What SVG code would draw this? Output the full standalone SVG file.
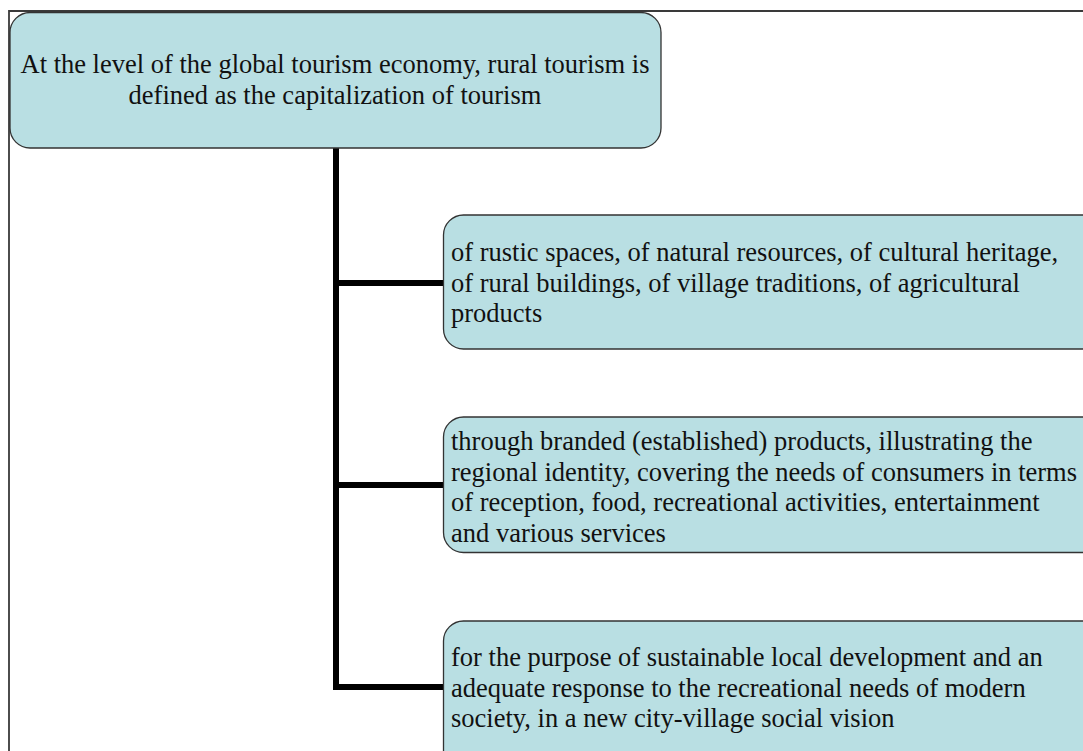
<svg xmlns="http://www.w3.org/2000/svg" width="1083" height="751" viewBox="0 0 1083 751">
<style>
.box{fill:#b9dfe3;stroke:#333;stroke-width:1.3}
.t{font-family:"Liberation Serif","Times New Roman",serif;font-size:26.5px;fill:#111}
.c{text-anchor:middle}
.conn{fill:none;stroke:#000;stroke-width:6;stroke-linejoin:miter}
.frame{fill:none;stroke:#3a3a3a;stroke-width:1.8}
</style>
<rect width="1083" height="751" fill="#fff"/>
<path class="frame" d="M9,751 V11 H1083"/>
<g id="connectors">
<path class="conn" d="M336,148 V687 H445"/>
<path class="conn" d="M336,283 H445"/>
<path class="conn" d="M336,485 H445"/>
</g>
<g id="root">
<rect class="box" x="10" y="12.5" width="651" height="135.5" rx="20" ry="20"/>
<text class="t c" x="335" y="73">At the level of the global tourism economy, rural tourism is</text>
<text class="t c" x="335" y="104">defined as the capitalization of tourism</text>
</g>
<g id="node1">
<rect class="box" x="443.5" y="215" width="660" height="134" rx="20" ry="20"/>
<text class="t" x="451" y="261">of rustic spaces, of natural resources, of cultural heritage,</text>
<text class="t" x="451" y="292">of rural buildings, of village traditions, of agricultural</text>
<text class="t" x="451" y="322">products</text>
</g>
<g id="node2">
<rect class="box" x="443.5" y="417" width="660" height="135.5" rx="20" ry="20"/>
<text class="t" x="451" y="450">through branded (established) products, illustrating the</text>
<text class="t" x="451" y="480.5">regional identity, covering the needs of consumers in terms</text>
<text class="t" x="451" y="511">of reception, food, recreational activities, entertainment</text>
<text class="t" x="451" y="541.5">and various services</text>
</g>
<g id="node3">
<rect class="box" x="443.5" y="621" width="660" height="160" rx="20" ry="20"/>
<text class="t" x="451" y="666">for the purpose of sustainable local development and an</text>
<text class="t" x="451" y="696.5">adequate response to the recreational needs of modern</text>
<text class="t" x="451" y="727">society, in a new city-village social vision</text>
</g>
</svg>
